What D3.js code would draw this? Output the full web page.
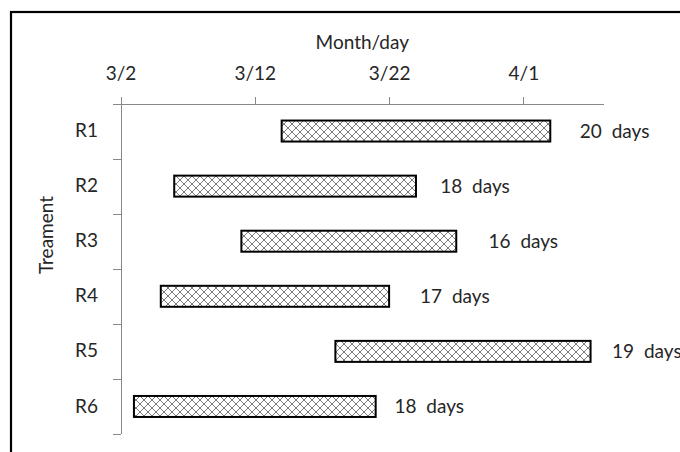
<!DOCTYPE html>
<html>
<head>
<meta charset="utf-8">
<script src="https://cdn.jsdelivr.net/npm/d3@7/dist/d3.min.js"></script>
<style>
    html, body { margin: 0; padding: 0; background: #ffffff; }
    #chart svg { display: block; }
    #chart text { font-family: Lato, "Noto Sans", sans-serif; fill: #262626; }
    .axis path, .axis line { stroke: #888888; shape-rendering: crispEdges; }
</style>
</head>
<body>
<div id="chart"></div>
<script>
// Data
const treatments = ['R1', 'R2', 'R3', 'R4', 'R5', 'R6'];
const startDates = ['3/14', '3/6', '3/11', '3/5', '3/18', '3/3'];
const durationDays = [20, 18, 16, 17, 19, 18];
// labels were placed by hand, so the gap after each bar (in days) varies
const labelGapDays = [2.2, 1.8, 2.4, 2.3, 1.6, 1.4];
const tickLabels = ['3/2', '3/12', '3/22', '4/1'];
const axisStart = '3/2';
const axisEnd = '4/7';

const YEAR = 2013;
const parseMD = (s) => {
    const [m, d] = s.split('/').map(Number);
    return new Date(Date.UTC(YEAR, m - 1, d));
};
const addDays = (date, n) => new Date(date.getTime() + n * 864e5);

const rows = treatments.map((t, i) => ({
    name: t,
    start: parseMD(startDates[i]),
    end: addDays(parseMD(startDates[i]), durationDays[i]),
    days: durationDays[i],
    labelAt: addDays(parseMD(startDates[i]), durationDays[i] + labelGapDays[i])
}));

const width = 680;
const height = 452;
const plot = { left: 120.5, right: 604, top: 103.5, bottom: 434 };

const x = d3.scaleUtc()
    .domain([parseMD(axisStart), parseMD(axisEnd)])
    .range([plot.left, plot.right]);

const y = d3.scaleBand()
    .domain(treatments)
    .range([plot.top, plot.bottom])
    .paddingInner(0)
    .paddingOuter(0);

// boundary ticks between categories
const yEdge = d3.scaleLinear()
    .domain([0, treatments.length])
    .range([plot.top, plot.bottom]);

const svg = d3.select('#chart')
    .append('svg')
    .attr('width', width)
    .attr('height', height);

svg.append('rect')
    .attr('width', width)
    .attr('height', height)
    .attr('fill', '#ffffff');

// outer chart frame (only top and left edges visible in the crop)
svg.append('rect')
    .attr('x', 11)
    .attr('y', 12)
    .attr('width', width + 20)
    .attr('height', height + 20)
    .attr('fill', 'none')
    .attr('stroke', '#000000')
    .attr('stroke-width', 2.2);

const defs = svg.append('defs');
const pat = defs.append('pattern')
    .attr('id', 'hatch')
    .attr('patternUnits', 'userSpaceOnUse')
    .attr('width', 8)
    .attr('height', 8);
pat.append('rect').attr('width', 8).attr('height', 8).attr('fill', '#ffffff');
pat.append('path')
    .attr('d', 'M0,0 L8,8 M8,0 L0,8 M-1,7 L1,9 M7,-1 L9,1 M-1,1 L1,-1 M7,9 L9,7')
    .attr('stroke', '#7a7a7a')
    .attr('stroke-width', 1);

// x axis on top
const xAxis = svg.append('g')
    .attr('class', 'axis x-axis')
    .attr('transform', `translate(0,${plot.top})`)
    .call(d3.axisTop(x)
        .tickValues(tickLabels.map(parseMD))
        .tickFormat(d3.utcFormat('%-m/%-d'))
        .tickSize(7)
        .tickSizeOuter(0)
        .tickPadding(17));
xAxis.select('.domain').attr('d', `M${plot.left - 8},0.5H${plot.right}`);
xAxis.selectAll('text').attr('font-size', 19);

svg.append('text')
    .attr('x', (plot.left + plot.right) / 2)
    .attr('y', 49)
    .attr('text-anchor', 'middle')
    .attr('font-size', 19)
    .text('Month/day');

// y axis: boundary ticks + category labels
svg.append('g')
    .attr('class', 'axis y-axis')
    .attr('transform', `translate(${plot.left},0)`)
    .call(d3.axisLeft(yEdge)
        .tickValues(d3.range(1, treatments.length + 1))
        .tickFormat('')
        .tickSize(8)
        .tickSizeOuter(0))
    .select('.domain').attr('d', `M0.5,${plot.top - 7}V${plot.bottom}`);

const yLab = svg.append('g')
    .attr('class', 'axis y-labels')
    .attr('transform', `translate(${plot.left},0)`)
    .call(d3.axisLeft(y).tickSize(0).tickPadding(22.5));
yLab.select('.domain').remove();
yLab.selectAll('text').attr('font-size', 19);

svg.append('text')
    .attr('transform', 'translate(53,235) rotate(-90)')
    .attr('text-anchor', 'middle')
    .attr('font-size', 19)
    .text('Treament');

// bars
const barH = 21;
svg.append('g')
    .selectAll('rect')
    .data(rows)
    .join('rect')
    .attr('x', (d) => x(d.start))
    .attr('y', (d) => y(d.name) + y.bandwidth() / 2 - barH / 2)
    .attr('width', (d) => x(d.end) - x(d.start))
    .attr('height', barH)
    .attr('fill', 'url(#hatch)')
    .attr('stroke', '#000000')
    .attr('stroke-width', 2);

// duration labels
svg.append('g')
    .selectAll('text')
    .data(rows)
    .join('text')
    .attr('x', (d) => x(d.labelAt))
    .attr('y', (d) => y(d.name) + y.bandwidth() / 2)
    .attr('dy', '0.35em')
    .attr('font-size', 19)
    .style('word-spacing', '5px')
    .text((d) => `${d.days} days`);
</script>
</body>
</html>
